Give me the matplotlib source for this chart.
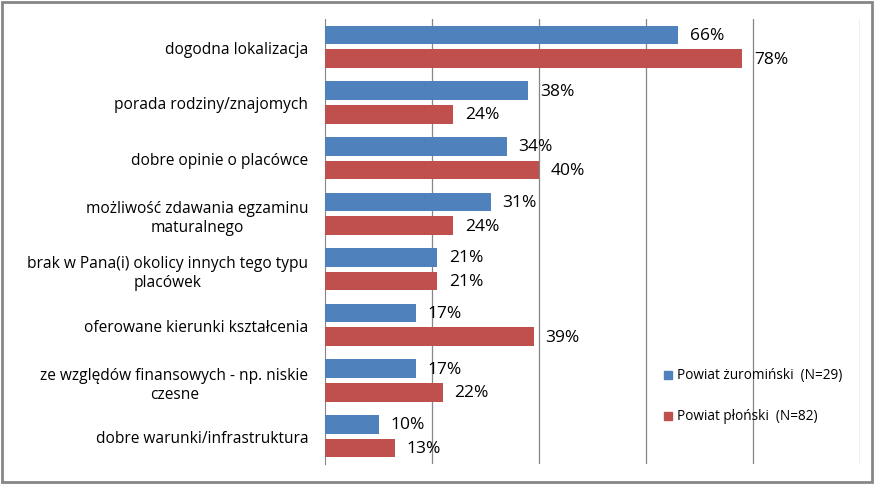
import matplotlib
matplotlib.use("Agg")
import matplotlib.pyplot as plt
import numpy as np
from matplotlib.patches import Rectangle

categories = [
    "dogodna lokalizacja",
    "porada rodziny/znajomych",
    "dobre opinie o placówce",
    "możliwość zdawania egzaminu\nmaturalnego",
    "brak w Pana(i) okolicy innych tego typu\nplacówek",
    "oferowane kierunki kształcenia",
    "ze względów finansowych - np. niskie\nczesne",
    "dobre warunki/infrastruktura",
]
zuromin = [66, 38, 34, 31, 21, 17, 17, 10]
plonsk = [78, 24, 40, 24, 21, 39, 22, 13]
series_names = ["Powiat żuromiński  (N=29)", "Powiat płoński  (N=82)"]
colors = ["#4F81BD", "#C0504D"]

plt.rcParams['font.family'] = ['Open Sans', 'DejaVu Sans']

fig = plt.figure(figsize=(8.75, 4.85), dpi=100)
ax = fig.add_axes([325/875, 20/485, 535/875, 445/485])

n = len(categories)
y = np.arange(n)
h = 0.335
off = h/2 + 0.045
ax.barh(y - off, zuromin, height=h, color=colors[0], label=series_names[0], zorder=3)
ax.barh(y + off, plonsk, height=h, color=colors[1], label=series_names[1], zorder=3)

for i in range(n):
    ax.text(zuromin[i] + 2.2, y[i] - off, f"{zuromin[i]}%", va='center', ha='left', fontsize=12.5)
    ax.text(plonsk[i] + 2.2, y[i] + off, f"{plonsk[i]}%", va='center', ha='left', fontsize=12.5)

ax.set_xlim(0, 100)
ax.set_ylim(n - 0.5, -0.5)
ax.set_xticks([20, 40, 60, 80, 100])
ax.xaxis.grid(True, color='#868686', linewidth=0.9, zorder=0)
ax.tick_params(axis='x', length=0, labelbottom=False)
ax.set_yticks(y)
ax.set_yticklabels(categories, fontsize=11.2, multialignment='center', linespacing=1.25)
ax.tick_params(axis='y', length=0, pad=12)
for s in ['top', 'right', 'bottom']:
    ax.spines[s].set_visible(False)
ax.spines['left'].set_color('#868686')

# legend
fig.text(677/875, 1 - 376/485, series_names[0], fontsize=9.8, va='center', ha='left')
fig.text(677/875, 1 - 417/485, series_names[1], fontsize=9.8, va='center', ha='left')
fig.patches.append(Rectangle((664/875, 1 - 380/485), 8/875, 8/485, transform=fig.transFigure, color=colors[0]))
fig.patches.append(Rectangle((664/875, 1 - 421/485), 8/875, 8/485, transform=fig.transFigure, color=colors[1]))

# outer border
fig.patches.append(Rectangle((2/875, 2/485), 870/875, 480/485, transform=fig.transFigure,
                             fill=False, edgecolor='#868686', linewidth=2))

fig.savefig("out.png", dpi=100)
